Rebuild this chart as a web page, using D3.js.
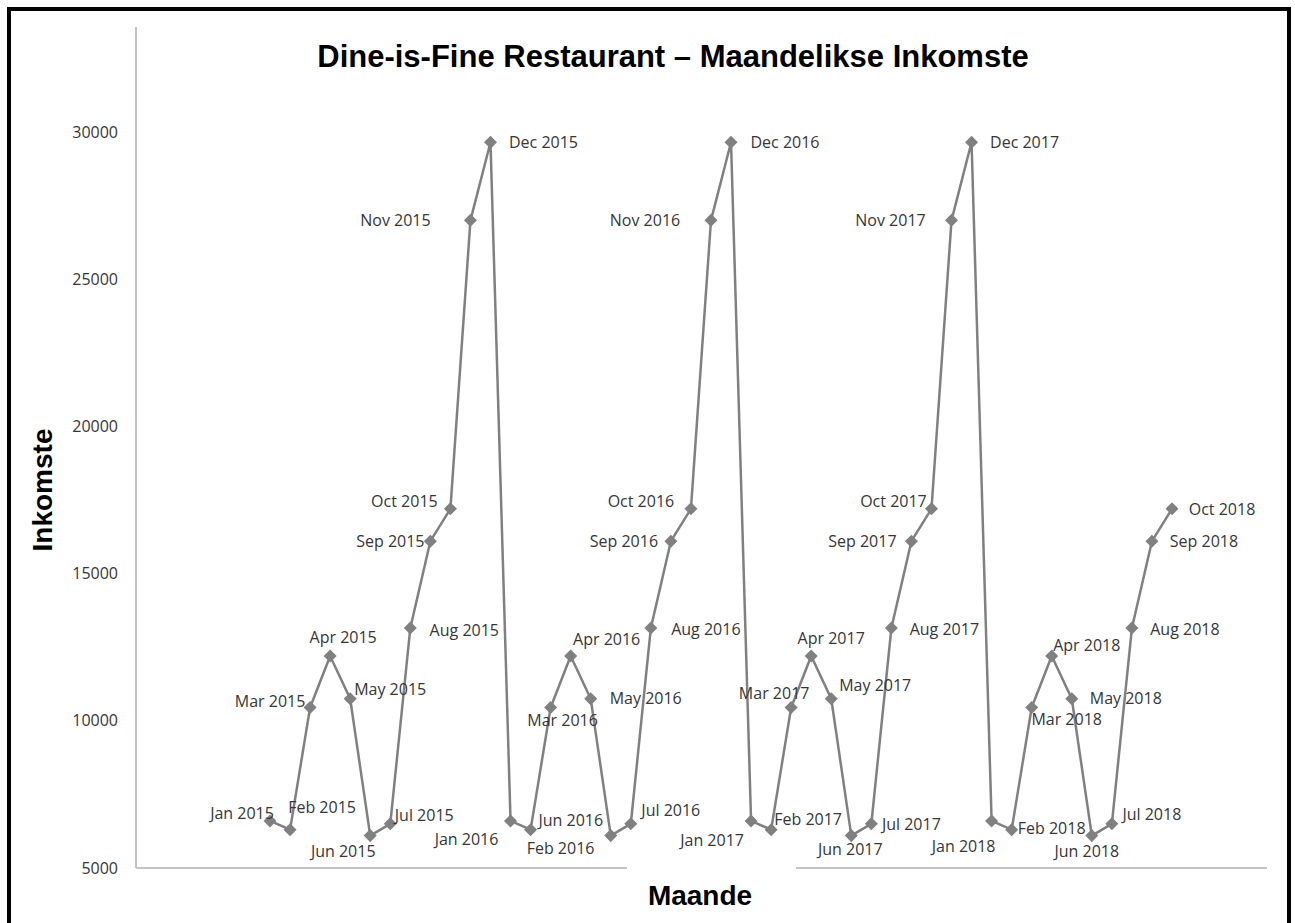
<!DOCTYPE html>
<html>
<head>
<meta charset="utf-8">
<script src="https://cdn.jsdelivr.net/npm/d3@7"></script>
<style>
  body { margin: 0; background: #fff; }
  svg { display: block; }
</style>
</head>
<body>
<svg id="chart" width="1295" height="923"></svg>
<script>
// month labels, Jan 2015 .. Oct 2018
const months = [
    'Jan 2015', 'Feb 2015', 'Mar 2015', 'Apr 2015', 'May 2015', 'Jun 2015',
    'Jul 2015', 'Aug 2015', 'Sep 2015', 'Oct 2015', 'Nov 2015', 'Dec 2015',
    'Jan 2016', 'Feb 2016', 'Mar 2016', 'Apr 2016', 'May 2016', 'Jun 2016',
    'Jul 2016', 'Aug 2016', 'Sep 2016', 'Oct 2016', 'Nov 2016', 'Dec 2016',
    'Jan 2017', 'Feb 2017', 'Mar 2017', 'Apr 2017', 'May 2017', 'Jun 2017',
    'Jul 2017', 'Aug 2017', 'Sep 2017', 'Oct 2017', 'Nov 2017', 'Dec 2017',
    'Jan 2018', 'Feb 2018', 'Mar 2018', 'Apr 2018', 'May 2018', 'Jun 2018',
    'Jul 2018', 'Aug 2018', 'Sep 2018', 'Oct 2018'
];

// monthly income
const income = [
    6600, 6300, 10450, 12200, 10750, 6100, 6500, 13150, 16100, 17200, 27000, 29650,
    6600, 6300, 10450, 12200, 10750, 6100, 6500, 13150, 16100, 17200, 27000, 29650,
    6600, 6300, 10450, 12200, 10750, 6100, 6500, 13150, 16100, 17200, 27000, 29650,
    6600, 6300, 10450, 12200, 10750, 6100, 6500, 13150, 16100, 17200
];

const yTicks = [5000, 10000, 15000, 20000, 25000, 30000];

// where each data label sits relative to its marker (dx, dy of text centre)
const labelOffsets = [
    [-28, -8], [32, -23], [-40, -7], [13, -19], [40, -10], [-27, 15],
    [34, -9], [54, 2], [-40, 0], [-46, -8], [-75, 0], [53, 0],
    [-44, 18], [30, 18], [12, 12], [36, -17], [55, -1], [-40, -16],
    [40, -14], [55, 1], [-47, 0], [-50, -8], [-66, 0], [54, 0],
    [-39, 19], [37, -11], [-17, -15], [20, -18], [44, -14], [-1, 13],
    [40, 0], [53, 1], [-49, 0], [-38, -8], [-61, 0], [53, 0],
    [-28, 25], [40, -2], [35, 11], [35, -11], [54, -1], [-5, 15],
    [40, -10], [53, 1], [52, 0], [50, 0]
];

const svg = d3.select('#chart');

const plotLeft = 136, plotRight = 1267, plotTop = 27, plotBottom = 868;
const lineColor = '#808080';
const textColor = '#363636';

const x = d3.scalePoint()
    .domain(months)
    .range([270, 1172]);

const y = d3.scaleLinear()
    .domain([5000, 30000])
    .range([plotBottom, 132]);

// outer frame
svg.append('rect')
    .attr('x', 9).attr('y', 9)
    .attr('width', 1280).attr('height', 940)
    .style('fill', 'none')
    .style('stroke', '#000')
    .style('stroke-width', 4);

// axes lines
svg.append('line')
    .attr('x1', plotLeft).attr('x2', plotLeft)
    .attr('y1', plotTop).attr('y2', plotBottom)
    .style('stroke', '#c4c4c4').style('stroke-width', 2);

svg.append('line')
    .attr('x1', plotLeft).attr('x2', plotRight)
    .attr('y1', plotBottom).attr('y2', plotBottom)
    .style('stroke', '#c4c4c4').style('stroke-width', 2);

// y tick labels
const yAxis = d3.axisLeft(y)
    .tickValues(yTicks)
    .tickSize(0)
    .tickPadding(18)
    .tickFormat(d3.format('d'));

const gy = svg.append('g')
    .attr('transform', `translate(${plotLeft},0)`)
    .call(yAxis);
gy.select('.domain').remove();
gy.selectAll('text')
    .style('font-family', '"Open Sans", sans-serif')
    .style('font-size', '16px')
    .style('fill', textColor);

// series line
const line = d3.line()
    .x((d, i) => x(months[i]))
    .y(d => y(d));

svg.append('path')
    .datum(income)
    .attr('d', line)
    .style('fill', 'none')
    .style('stroke', lineColor)
    .style('stroke-width', 2.5)
    .style('stroke-linejoin', 'round');

// diamond markers
const diamond = d3.symbol().type(d3.symbolSquare).size(85);

svg.selectAll('.marker')
    .data(income)
    .join('path')
    .attr('class', 'marker')
    .attr('d', diamond)
    .attr('transform', (d, i) => `translate(${x(months[i])},${y(d)}) rotate(45)`)
    .style('fill', lineColor);

// data labels
svg.selectAll('.point-label')
    .data(income)
    .join('text')
    .attr('class', 'point-label')
    .attr('x', (d, i) => x(months[i]) + labelOffsets[i][0])
    .attr('y', (d, i) => y(d) + labelOffsets[i][1])
    .attr('text-anchor', 'middle')
    .attr('dominant-baseline', 'central')
    .text((d, i) => months[i])
    .style('font-family', '"Open Sans", sans-serif')
    .style('font-size', '16px')
    .style('fill', textColor);

// title
svg.append('text')
    .attr('x', 673)
    .attr('y', 67)
    .attr('text-anchor', 'middle')
    .text('Dine-is-Fine Restaurant – Maandelikse Inkomste')
    .style('font-family', '"Liberation Sans", Arial, sans-serif')
    .style('font-weight', 'bold')
    .style('font-size', '31px')
    .style('fill', '#000');

// x axis title, its white box covers part of the axis line
svg.append('rect')
    .attr('x', 627).attr('y', 865)
    .attr('width', 169).attr('height', 50)
    .style('fill', '#fff');

svg.append('text')
    .attr('x', 700)
    .attr('y', 905)
    .attr('text-anchor', 'middle')
    .text('Maande')
    .style('font-family', '"Liberation Sans", Arial, sans-serif')
    .style('font-weight', 'bold')
    .style('font-size', '28px')
    .style('fill', '#000');

// y axis title
svg.append('text')
    .attr('transform', 'translate(52,490) rotate(-90)')
    .attr('text-anchor', 'middle')
    .text('Inkomste')
    .style('font-family', '"Liberation Sans", Arial, sans-serif')
    .style('font-weight', 'bold')
    .style('font-size', '28px')
    .style('fill', '#000');
</script>
</body>
</html>
